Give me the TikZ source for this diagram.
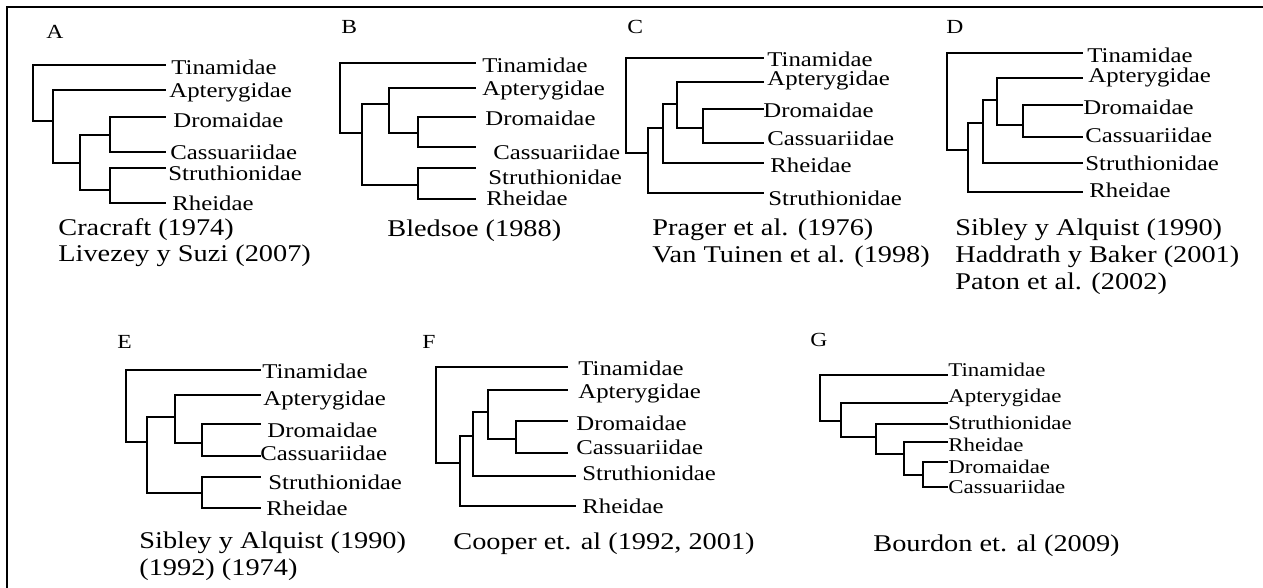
\documentclass[tikz,border=0pt]{standalone}
\usepackage{fontspec}
\setmainfont{Liberation Serif}[FakeStretch=1.18]

\tikzset{
  branch/.style={line width=1pt, line cap=rect},
  taxon/.style={anchor=west, inner sep=0pt, font=\fontsize{10.5}{12}\selectfont},
  smalltaxon/.style={taxon, font=\fontsize{9.7}{11}\selectfont},
  author/.style={anchor=base west, inner sep=0pt, font=\fontsize{12}{14}\selectfont},
  panel/.style={anchor=west, inner sep=0pt, font=\fontsize{10}{12}\selectfont}
}

\begin{document}
\begin{tikzpicture}[x=0.5pt, y=-0.5pt]

\useasboundingbox (0,0) rectangle (1263,588);

% рамка
\draw[line width=1pt] (7,588) -- (7,7) -- (1263,7);

% дерево A
\node[panel] (pA) at (46,32) {A};
\coordinate (A0) at (33,121);
\coordinate (A1) at (53,121);
\coordinate (A2) at (80,163);
\coordinate (A3) at (110,135);
\coordinate (A4) at (110,190);
\foreach \n/\x/\y/\lx/\ly/\t in {tin/165/65/171/67/Tinamidae, apt/165/90/169/92/Apterygidae,
    dro/165/117/173/120/Dromaidae, cas/165/152/170/152/Cassuariidae,
    str/165/168/168/173/Struthionidae, rhe/165/203/172/203/Rheidae}{
  \coordinate (A-\n) at (\x,\y);
  \node[taxon] (A-\n-l) at (\lx,\ly) {\t};
}
\foreach \p/\c in {A0/A-tin, A0/A1, A1/A-apt, A1/A2, A2/A3, A2/A4,
    A3/A-dro, A3/A-cas, A4/A-str, A4/A-rhe}
  \draw[branch] (\p) |- (\c);
\node[author] (capA1) at (58,235) {Cracraft (1974)};
\node[author] (capA2) at (58,262) {Livezey y Suzi (2007)};

% дерево B
\node[panel] (pB) at (341,27) {B};
\coordinate (B0) at (340,133);
\coordinate (B1) at (362,133);
\coordinate (B2) at (389,104);
\coordinate (B3) at (418,133);
\coordinate (B4) at (418,185);
\foreach \n/\x/\y/\lx/\ly/\t in {tin/475/63/482/65/Tinamidae, apt/475/88/482/90/Apterygidae,
    dro/475/117/485/118/Dromaidae, cas/475/147/493/152/Cassuariidae,
    str/475/168/488/177/Struthionidae, rhe/475/199/486/198/Rheidae}{
  \coordinate (B-\n) at (\x,\y);
  \node[taxon] (B-\n-l) at (\lx,\ly) {\t};
}
\foreach \p/\c in {B0/B-tin, B0/B1, B1/B2, B1/B4, B2/B-apt, B2/B3,
    B3/B-dro, B3/B-cas, B4/B-str, B4/B-rhe}
  \draw[branch] (\p) |- (\c);
\node[author] (capB1) at (387,237) {Bledsoe (1988)};

% дерево C
\node[panel] (pC) at (627,27) {C};
\coordinate (C0) at (626,153);
\coordinate (C1) at (648,153);
\coordinate (C2) at (663,128);
\coordinate (C3) at (677,104);
\coordinate (C4) at (703,128);
\foreach \n/\x/\y/\lx/\ly/\t in {tin/763/58/767/59/Tinamidae, apt/763/82/767/80/Apterygidae,
    dro/763/109/763/110/Dromaidae, cas/763/143/767/138/Cassuariidae,
    rhe/763/163/770/165/Rheidae, str/763/193/768/198/Struthionidae}{
  \coordinate (C-\n) at (\x,\y);
  \node[taxon] (C-\n-l) at (\lx,\ly) {\t};
}
\foreach \p/\c in {C0/C-tin, C0/C1, C1/C2, C1/C-str, C2/C3, C2/C-rhe,
    C3/C-apt, C3/C4, C4/C-dro, C4/C-cas}
  \draw[branch] (\p) |- (\c);
\node[author] (capC1) at (652,236) {Prager et al. (1976)};
\node[author] (capC2) at (652,263) {Van Tuinen et al. (1998)};

% дерево D
\node[panel] (pD) at (946,27) {D};
\coordinate (D0) at (947,150);
\coordinate (D1) at (968,150);
\coordinate (D2) at (983,123);
\coordinate (D3) at (997,100);
\coordinate (D4) at (1023,125);
\foreach \n/\x/\y/\lx/\ly/\t in {tin/1082/53/1087/55/Tinamidae, apt/1082/78/1088/77/Apterygidae,
    dro/1082/105/1083/107/Dromaidae, cas/1082/137/1085/135/Cassuariidae,
    str/1082/163/1085/163/Struthionidae, rhe/1082/192/1089/190/Rheidae}{
  \coordinate (D-\n) at (\x,\y);
  \node[taxon] (D-\n-l) at (\lx,\ly) {\t};
}
\foreach \p/\c in {D0/D-tin, D0/D1, D1/D2, D1/D-rhe, D2/D3, D2/D-str,
    D3/D-apt, D3/D4, D4/D-dro, D4/D-cas}
  \draw[branch] (\p) |- (\c);
\node[author] (capD1) at (955,236) {Sibley y Alquist (1990)};
\node[author] (capD2) at (955,263) {Haddrath y Baker (2001)};
\node[author] (capD3) at (955,289) {Paton et al. (2002)};

% дерево E
\node[panel] (pE) at (117,342) {E};
\coordinate (E0) at (126,442);
\coordinate (E1) at (147,442);
\coordinate (E2) at (175,417);
\coordinate (E3) at (202,443);
\coordinate (E4) at (202,493);
\foreach \n/\x/\y/\lx/\ly/\t in {tin/260/370/262/371/Tinamidae, apt/260/395/263/400/Apterygidae,
    dro/260/424/267/430/Dromaidae, cas/260/456/260/453/Cassuariidae,
    str/260/477/268/482/Struthionidae, rhe/260/508/266/508/Rheidae}{
  \coordinate (E-\n) at (\x,\y);
  \node[taxon] (E-\n-l) at (\lx,\ly) {\t};
}
\foreach \p/\c in {E0/E-tin, E0/E1, E1/E2, E1/E4, E2/E-apt, E2/E3,
    E3/E-dro, E3/E-cas, E4/E-str, E4/E-rhe}
  \draw[branch] (\p) |- (\c);
\node[author] (capE1) at (139,548) {Sibley y Alquist (1990)};
\node[author] (capE2) at (139,575) {(1992) (1974)};

% дерево F
\node[panel] (pF) at (422,342) {F};
\coordinate (F0) at (436,463);
\coordinate (F1) at (460,463);
\coordinate (F2) at (473,436);
\coordinate (F3) at (488,412);
\coordinate (F4) at (516,439);
\foreach \n/\x/\y/\lx/\ly/\t in {tin/567/367/578/368/Tinamidae, apt/567/390/578/393/Apterygidae,
    dro/567/421/576/423/Dromaidae, cas/567/453/576/447/Cassuariidae,
    str/575/476/582/473/Struthionidae, rhe/575/506/582/506/Rheidae}{
  \coordinate (F-\n) at (\x,\y);
  \node[taxon] (F-\n-l) at (\lx,\ly) {\t};
}
\foreach \p/\c in {F0/F-tin, F0/F1, F1/F2, F1/F-rhe, F2/F3, F2/F-str,
    F3/F-apt, F3/F4, F4/F-dro, F4/F-cas}
  \draw[branch] (\p) |- (\c);
\node[author] (capF1) at (453,549) {Cooper et. al (1992, 2001)};

% дерево G
\node[panel] (pG) at (810,340) {G};
\coordinate (G0) at (820,421);
\coordinate (G1) at (841,421);
\coordinate (G2) at (876,437);
\coordinate (G3) at (904,454);
\coordinate (G4) at (923,475);
\foreach \n/\x/\y/\lx/\ly/\t in {tin/947/375/948/370/Tinamidae, apt/947/403/948/398/Apterygidae,
    str/947/424/948/423/Struthionidae, rhe/947/442/948/445/Rheidae,
    dro/947/462/948/467/Dromaidae, cas/947/487/948/487/Cassuariidae}{
  \coordinate (G-\n) at (\x,\y);
  \node[smalltaxon] (G-\n-l) at (\lx,\ly) {\t};
}
\foreach \p/\c in {G0/G-tin, G0/G1, G1/G-apt, G1/G2, G2/G-str, G2/G3,
    G3/G-rhe, G3/G4, G4/G-dro, G4/G-cas}
  \draw[branch] (\p) |- (\c);
\node[author] (capG1) at (873,551) {Bourdon et. al (2009)};

\end{tikzpicture}
\end{document}
